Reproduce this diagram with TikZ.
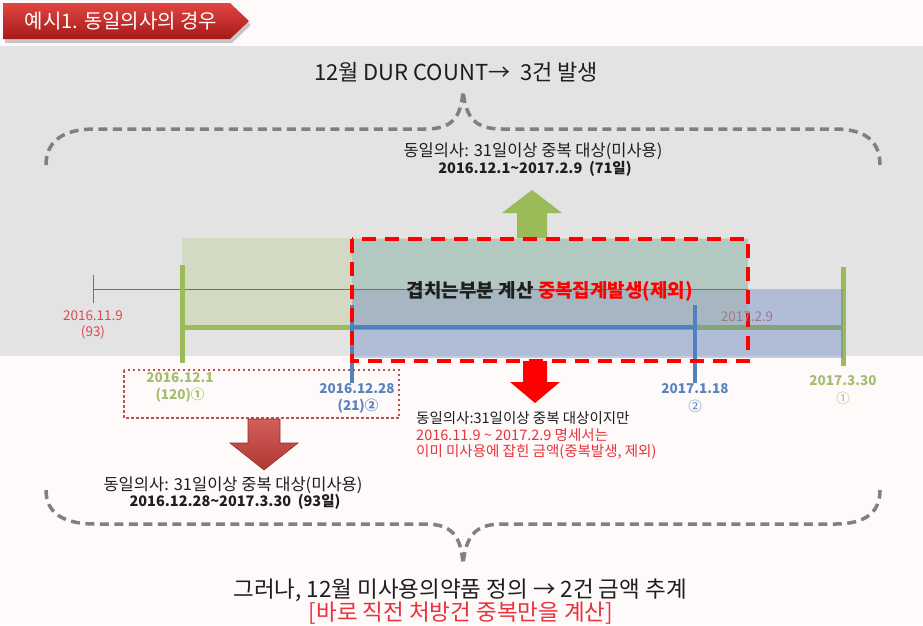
\documentclass[tikz,border=0pt]{standalone}
\usepackage{fontspec}
\setmainfont{Noto Sans CJK KR}
\definecolor{bandgray}{RGB}{227,227,227}
\definecolor{lowbg}{RGB}{255,250,250}
\definecolor{bracegray}{RGB}{128,128,128}
\definecolor{grn}{RGB}{155,187,89}
\definecolor{blu}{RGB}{79,129,189}
\definecolor{bluov}{RGB}{85,120,190}
\definecolor{rd}{RGB}{255,0,0}
\definecolor{dkred}{RGB}{192,80,77}
\definecolor{pinkred}{RGB}{224,70,85}
\definecolor{txtred}{RGB}{232,50,60}
\definecolor{txt}{RGB}{30,30,30}
\definecolor{lblgrn}{RGB}{165,190,110}
\definecolor{lblblu}{RGB}{90,130,190}
\definecolor{mauve}{RGB}{160,120,140}
\definecolor{tealov}{RGB}{60,130,190}
\definecolor{bannertop}{RGB}{225,70,65}
\definecolor{bannerbot}{RGB}{165,25,25}
\definecolor{arrtop}{RGB}{210,95,90}
\definecolor{arrbot}{RGB}{175,55,50}
\definecolor{arredge}{RGB}{150,45,40}
\begin{document}
\begin{tikzpicture}[x=1pt,y=-1pt,
  every node/.style={inner sep=0pt, text=txt},
  fs/.style={font=\fontsize{#1}{#1}\selectfont},
  brace/.style={draw=bracegray, line width=3.5pt, dash pattern=on 9pt off 5.5pt},
  lbl/.style={fs=13.5},
  info/.style={fs=16.5},
  infob/.style={fs=14.5},
]
\useasboundingbox (0,0) rectangle (923,625);
\fill[lowbg] (0,0) rectangle (923,625);
\fill[bandgray] (0,46) rectangle (923,356);

% banner
\fill[black!22] (5,7) -- (232,7) -- (251,25) -- (232,43) -- (5,43) -- cycle;
\shade[top color=bannertop, bottom color=bannerbot]
  (3,3) -- (230,3) -- (249,21) -- (230,39) -- (3,39) -- cycle;
\node[fs=20, text=white] (banner) at (121,21) {예시1. 동일의사의 경우};

% title and braces
\node[fs=22] (title) at (456,72) {12월 DUR COUNT→\ \ 3건 발생};
\draw[brace] (46,165) .. controls (46,142) and (62,129) .. (95,129) -- (425,129)
  .. controls (452,129) and (461,118) .. (463,91)
  .. controls (466,118) and (475,129) .. (502,129) -- (835,129)
  .. controls (866,129) and (880,142) .. (880,165);
\draw[brace] (46,490) .. controls (46,512) and (62,524) .. (95,524) -- (425,524)
  .. controls (452,524) and (461,536) .. (463,564)
  .. controls (466,536) and (475,524) .. (502,524) -- (835,524)
  .. controls (866,524) and (880,512) .. (880,490);

\node[info] (topinfo1) at (533,151) {동일의사: 31일이상 중복 대상(미사용)};
\node[infob] (topinfo2) at (535,169) {\bfseries 2016.12.1\textasciitilde 2017.2.9\ \ (71일)};

% green up arrow
\fill[grn] (517,238) -- (517,213) -- (502,213) -- (532,190) -- (562,213) -- (547,213) -- (547,238) -- cycle;

% green translucent rect
\fill[grn, opacity=0.22] (182,238) rectangle (748,327);

% timeline coordinates
\coordinate (r0) at (93,289);   \coordinate (r1) at (748,289);
\coordinate (r0t) at (93,275);  \coordinate (r0b) at (93,303);
\coordinate (g0t) at (182,265); \coordinate (g0b) at (182,363);
\coordinate (gl) at (182,327);  \coordinate (gr) at (843,327);
\coordinate (g1t) at (843,267); \coordinate (g1b) at (843,366);
\coordinate (b0t) at (352,305); \coordinate (b0b) at (352,383);
\coordinate (bl) at (352,327);  \coordinate (br) at (695,327);
\coordinate (b1t) at (695,305); \coordinate (b1b) at (695,383);

\draw[dkred, line width=0.9pt] (r0) -- (r1);
\draw[dkred, line width=0.9pt] (r0t) -- (r0b);
\draw[grn, line width=5pt] (gl) -- (gr);
\draw[grn, line width=5pt] (g0t) -- (g0b);
\draw[grn, line width=5pt] (g1t) -- (g1b);

% blue translucent rect and teal overlay
\fill[bluov, opacity=0.35] (352,289) rectangle (843,358);
\fill[tealov, opacity=0.2] (352,239) rectangle (748,289);

\draw[blu, line width=3.5pt] (bl) -- (br);
\draw[blu, line width=3.5pt] (b0t) -- (b0b);
\draw[blu, line width=3.5pt] (b1t) -- (b1b);

% red dashed box
\draw[rd, line width=4pt, dash pattern=on 14pt off 9pt] (352,239) rectangle (748,361);
\node[fs=19] (overlap) at (550,291) {\bfseries 겹치는부분 계산 \textcolor{rd}{중복집계발생(제외)}};

% labels
\node[lbl, text=pinkred] (l1a) at (93,316) {2016.11.9};
\node[lbl, text=pinkred] (l1b) at (93,332) {(93)};
\node[lbl, text=lblgrn] (l2a) at (180,378) {\bfseries 2016.12.1};
\node[lbl, text=lblgrn] (l2b) at (180,395) {\bfseries (120)①};
\node[lbl, text=lblblu] (l3a) at (357,389) {\bfseries 2016.12.28};
\node[lbl, text=lblblu] (l3b) at (358,406) {\bfseries (21)②};
\node[lbl, text=lblblu] (l4a) at (695,389) {\bfseries 2017.1.18};
\node[lbl, text=lblblu] (l4b) at (695,406) {②};
\node[lbl, text=lblgrn] (l5a) at (843,381) {\bfseries 2017.3.30};
\node[lbl, text=lblgrn] (l5b) at (843,398) {①};
\node[lbl, text=mauve] (l6) at (747,317) {2017.2.9};

% dotted box
\draw[dkred, line width=2.5pt, dash pattern=on 2.5pt off 2.5pt] (124,370) rectangle (399,418);

% red down arrow
\fill[rd] (523,361) -- (547,361) -- (547,382) -- (560,382) -- (535,403) -- (510,382) -- (523,382) -- cycle;

% dark red down arrow
\shade[top color=arrtop, bottom color=arrbot, draw=arredge, line width=0.6pt]
  (248,419) -- (280,419) -- (280,443) -- (298,443) -- (264,470) -- (230,443) -- (248,443) -- cycle;

% right info
\node[fs=14.5, anchor=west] (ri1) at (416,418) {동일의사:31일이상 중복 대상이지만};
\node[fs=14.5, anchor=west, text=txtred] (ri2) at (416,435) {2016.11.9 \textasciitilde\ 2017.2.9 명세서는};
\node[fs=14.5, anchor=west, text=txtred] (ri3) at (416,452) {이미 미사용에 잡힌 금액(중복발생, 제외)};

% left bottom info
\node[info] (li1) at (233,485) {동일의사: 31일이상 중복 대상(미사용)};
\node[infob] (li2) at (235,502) {\bfseries 2016.12.28\textasciitilde 2017.3.30\ \ (93일)};

% bottom text
\node[fs=22.5] (bot1) at (460,590) {그러나, 12월 미사용의약품 정의 → 2건 금액 추계};
\node[fs=22.5, text=txtred] (bot2) at (461,613) {[바로 직전 처방건 중복만을 계산]};
\end{tikzpicture}
\end{document}
